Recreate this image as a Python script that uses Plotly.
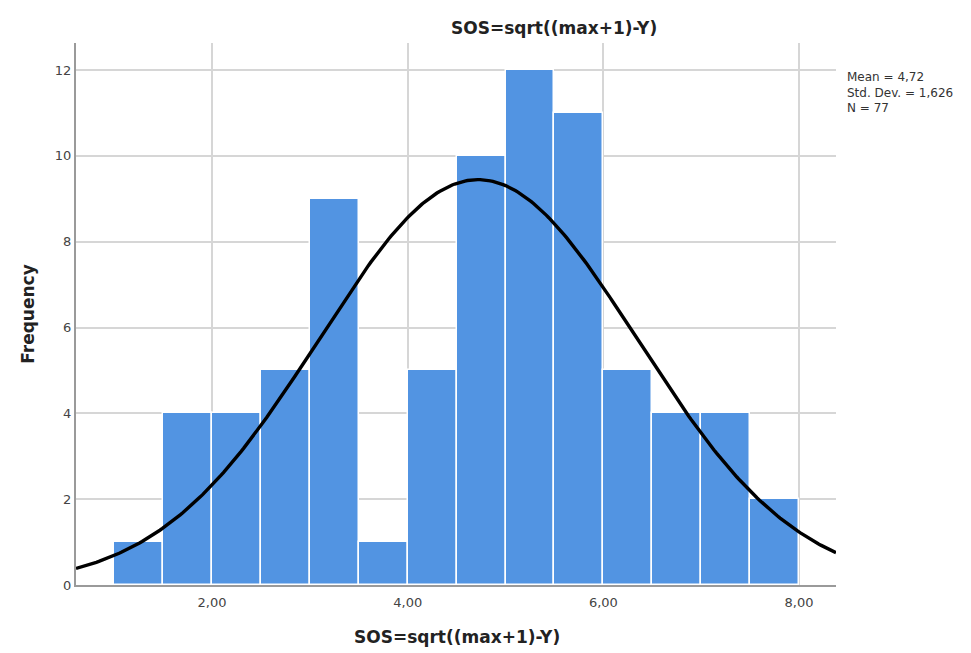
import numpy as np
import plotly.graph_objects as go

# Data
bin_edges_left = [1.0, 1.5, 2.0, 2.5, 3.0, 3.5, 4.0, 4.5, 5.0, 5.5, 6.0, 6.5, 7.0, 7.5]
counts = [1, 4, 4, 5, 9, 1, 5, 10, 12, 11, 5, 4, 4, 2]
bin_width = 0.5
mean = 4.72
std_dev = 1.626
n_obs = 77
x_ticks = [2, 4, 6, 8]
x_tick_labels = ["2,00", "4,00", "6,00", "8,00"]
y_ticks = [0, 2, 4, 6, 8, 10, 12]
title_text = "SOS=sqrt((max+1)-Y)"
stats_lines = ["Mean = 4,72", "Std. Dev. = 1,626", "N = 77"]

x_min, x_max = 0.609, 8.378
y_min, y_max = 0, 12.63

centers = [e + bin_width / 2 for e in bin_edges_left]

# Fitted normal curve scaled to histogram counts
xs = np.linspace(x_min, x_max, 300)
ys = n_obs * bin_width / (std_dev * np.sqrt(2 * np.pi)) * np.exp(-0.5 * ((xs - mean) / std_dev) ** 2)

fig = go.Figure()
fig.add_trace(go.Bar(
    x=centers, y=counts, width=[bin_width] * len(centers),
    marker=dict(color="#5294e2", line=dict(color="white", width=1.5)),
    showlegend=False, hoverinfo="skip",
))
fig.add_trace(go.Scatter(
    x=xs, y=ys, mode="lines",
    line=dict(color="black", width=3.4),
    showlegend=False, hoverinfo="skip",
))

font_family = "DejaVu Sans, Liberation Sans, sans-serif"

annotations = [
    dict(text="<b>" + title_text + "</b>", xref="paper", yref="paper",
         x=(554 - 76) / 760, y=(585 - 28) / 542, xanchor="center", yanchor="middle",
         showarrow=False, font=dict(size=17, color="#222")),
    dict(text="<b>" + title_text + "</b>", xref="paper", yref="paper",
         x=(457 - 76) / 760, y=(585 - 637) / 542, xanchor="center", yanchor="middle",
         showarrow=False, font=dict(size=17, color="#222")),
    dict(text="<br>".join(stats_lines), xref="paper", yref="paper",
         x=(845 - 76) / 760, y=(585 - 68) / 542, xanchor="left", yanchor="top",
         align="left", showarrow=False, font=dict(size=12, color="#333")),
]

fig.update_layout(
    width=971, height=653,
    margin=dict(l=76, r=135, t=43, b=68),
    paper_bgcolor="white", plot_bgcolor="white",
    bargap=0,
    font=dict(family=font_family, color="#333"),
    xaxis=dict(
        range=[x_min, x_max], tickvals=x_ticks, ticktext=x_tick_labels,
        showgrid=True, gridcolor="#d6d6d6", gridwidth=1.5,
        showline=True, linecolor="#9a9a9a", linewidth=2,
        ticks="outside", ticklen=4, tickcolor="rgba(0,0,0,0)",
        tickfont=dict(size=13, color="#444"),
        zeroline=False, fixedrange=True,
    ),
    yaxis=dict(
        range=[y_min, y_max], tickvals=y_ticks,
        showgrid=True, gridcolor="#d6d6d6", gridwidth=1.5,
        showline=True, linecolor="#9a9a9a", linewidth=2,
        ticks="", tickfont=dict(size=13, color="#444"),
        zeroline=False, fixedrange=True,
        title=dict(text="<b>Frequency</b>", font=dict(size=17, color="#222"), standoff=16),
    ),
    annotations=annotations,
)

fig.write_html("out.html")
